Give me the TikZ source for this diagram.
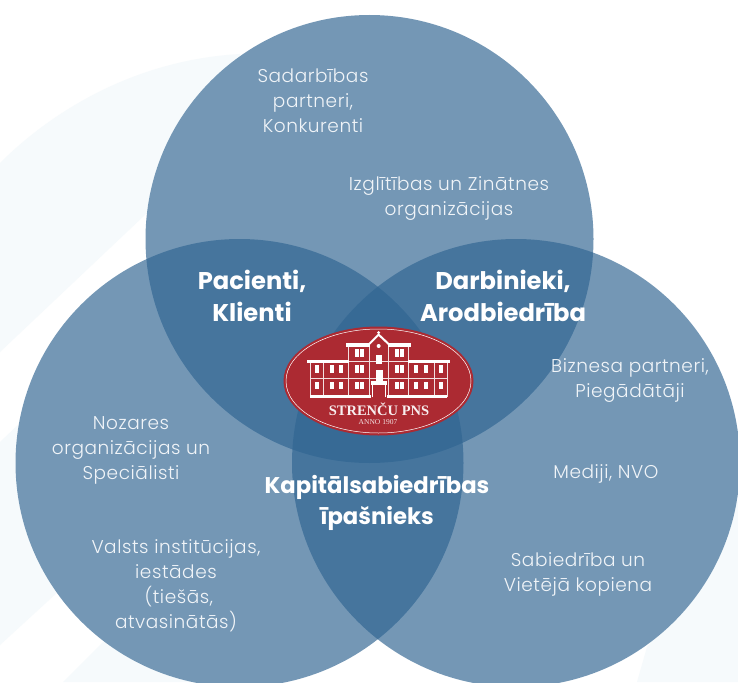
\documentclass[tikz,border=0pt]{standalone}
\usepackage{fontspec}
\setmainfont{Poppins}
\newfontfamily\lightfont[LetterSpace=3]{Poppins Light}
\definecolor{venn}{RGB}{48,101,146}
\definecolor{swoosh}{RGB}{246,250,252}
\definecolor{logored}{RGB}{172,42,50}
\definecolor{labelwhite}{RGB}{240,244,248}
\tikzset{
  circ/.style={fill=venn,fill opacity=.67,draw=none},
  lab/.style={text=labelwhite,font=\lightfont\fontsize{18.5}{25}\selectfont,align=center,inner sep=0pt},
  head/.style={text=white,font=\fontsize{24.2}{32}\selectfont\bfseries,align=center,inner sep=0pt},
  headb/.style={text=white,font=\fontsize{22.7}{31}\selectfont\bfseries,align=center,inner sep=0pt},
  bld/.style={fill=white,draw=none},
  wall/.style={draw=white!85!logored,line width=.7pt}
}
\begin{document}
\begin{tikzpicture}[x=1pt,y=-1pt]
\useasboundingbox (0,0) rectangle (738,682);
\fill[white] (0,0) rectangle (738,682);
\begin{scope}
\clip (0,0) rectangle (738,682);
\fill[swoosh] (0,163) .. controls (50,113) and (133,60) .. (240,54) -- (240,213) -- (147,213) -- (0,352) -- cycle;
\fill[swoosh] (0,442) -- (60,385) -- (60,590) -- (0,645) -- cycle;
\fill[swoosh] (63,682) -- (105,640) -- (200,640) -- (260,682) -- cycle;
\fill[swoosh] (637,682) -- (647,647) -- (700,590) -- (738,500) -- (738,682) -- cycle;
\fill[white] (369.5,239) circle[radius=224];
\fill[white] (239.5,463) circle[radius=224];
\fill[white] (516,463) circle[radius=224];
\fill[circ] (369.5,239) circle[radius=224];
\fill[circ] (239.5,463) circle[radius=224];
\fill[circ] (516,463) circle[radius=224];
\end{scope}
\node[lab] (n1) at (313,101) {Sadarbības\\partneri,\\Konkurenti};
\node[lab] (n2) at (449,199) {Izglītības un Zinātnes\\organizācijas};
\node[lab] (n3) at (630,381) {Biznesa partneri,\\Piegādātāji};
\node[lab] (n4) at (606,474) {Mediji, NVO};
\node[lab] (n5) at (578,574) {Sabiedrība un\\Vietējā kopiena};
\node[lab] (n6) at (131,450) {Nozares\\organizācijas un\\Speciālisti};
\node[lab] (n7) at (176,586) {Valsts institūcijas,\\iestādes\\\ (tiešās,\\atvasinātās)};
\node[head] (h1) at (252,296) {Pacienti,\\Klienti};
\node[head] (h2) at (503,296) {Darbinieki,\\Arodbiedrība};
\node[headb] (h3) at (377,503) {Kapitālsabiedrības\\īpašnieks};
% logo
\fill[logored] (378.5,381) ellipse[x radius=95,y radius=54.5];
\draw[white,line width=.5pt] (378.5,381) ellipse[x radius=92.5,y radius=52];
\begin{scope}[shift={(270,320)},x=.3333pt,y=-.3333pt]
\draw[wall] (120,124) -- (120,230) (160,124) -- (160,230) (236,76) -- (236,230) (298,70) -- (298,230) (356,70) -- (356,230) (416,76) -- (416,230) (494,124) -- (494,230) (532,124) -- (532,230);
\draw[wall] (120,176) -- (532,176) (236,124) -- (416,124);
\fill[bld] (112,119) rectangle (238,130);
\fill[bld] (414,119) rectangle (540,130);
\fill[bld] (228,70) rectangle (300,82);
\fill[bld] (354,70) rectangle (424,82);
\fill[bld] (120,224) rectangle (302,234);
\fill[bld] (350,224) rectangle (532,234);
\draw[white,line width=2pt,line join=miter] (294,76) -- (326,44) -- (360,76);
\fill[bld] (326,38) circle[radius=5];
\fill[bld] (326,78) circle[radius=6];
\foreach \x in {136,180,208,254,270,374,390,432,462,506}{
  \fill[bld] (\x,136) rectangle ++(12,24);
  \fill[bld] (\x,186) rectangle ++(12,22);
}
\foreach \x in {254,270,374,390}{\fill[bld] (\x,88) rectangle ++(12,22);}
\fill[bld] (318,106) rectangle (336,132);
\fill[bld] (317,150) rectangle (338,184);
\fill[bld] (302,184) rectangle (352,196);
\draw[white,line width=1.3pt] (308,232) -- (308,196) (346,232) -- (346,196);
\end{scope}
\node[text=white!92!logored,font=\fontsize{14.5}{16}\selectfont\fontspec{Liberation Serif}\bfseries,inner sep=0pt] (logoname) at (379,409) {STRENČU PNS};
\node[text=white!85!logored,font=\fontsize{7.5}{8}\selectfont\fontspec{Liberation Serif},inner sep=0pt] (logoyear) at (378,422) {ANNO 1907};
\end{tikzpicture}
\end{document}
